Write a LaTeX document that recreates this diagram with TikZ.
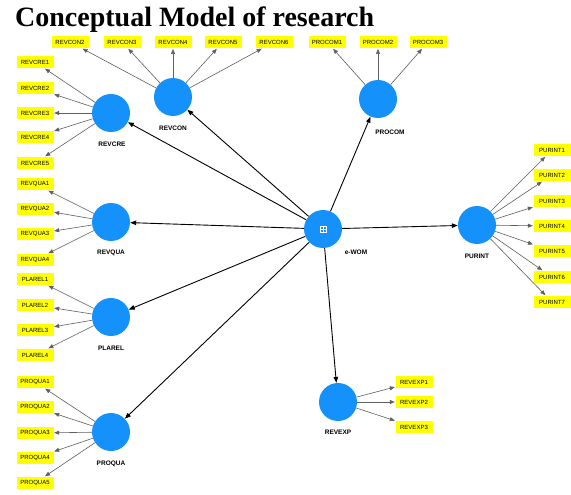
\documentclass[tikz,border=0pt]{standalone}
\usepackage{fontspec}
\setmainfont{Liberation Serif}
\setsansfont{Liberation Sans}
\usetikzlibrary{arrows.meta}
\definecolor{lvblue}{RGB}{20,145,250}
\definecolor{indyel}{RGB}{255,255,0}
\definecolor{indgray}{RGB}{95,95,95}
\begin{document}
\begin{tikzpicture}[x=1pt,y=-1pt,
 lv/.style={circle,fill=lvblue,minimum size=38pt,inner sep=0pt},
 ind/.style={fill=indyel,minimum width=37pt,minimum height=12.5pt,inner sep=0pt,font=\sffamily\fontsize{6}{7}\selectfont},
 lvl/.style={font=\sffamily\bfseries\fontsize{6.5}{7}\selectfont},
 ia/.style={draw=indgray,line width=0.6pt,-{Triangle[length=5pt,width=4pt]},shorten >=0.5pt},
 pa/.style={draw=black,line width=0.9pt,-{Triangle[length=6pt,width=4.5pt]}}]
\useasboundingbox[fill=white] (0,0) rectangle (571,495);
\node[anchor=base west,font=\bfseries\fontsize{28}{30}\selectfont,inner sep=0pt] (title) at (15,27) {Conceptual Model of research};
% latent variables
\node[lv] (ewom) at (323,229) {};
\node[lv] (revcon) at (173,97) {};
\node[lv] (revcre) at (111,113) {};
\node[lv] (procom) at (378,99) {};
\node[lv] (purint) at (477,225) {};
\node[lv] (revqua) at (111,222) {};
\node[lv] (plarel) at (111,317) {};
\node[lv] (proqua) at (111,432) {};
\node[lv] (revexp) at (338,402) {};
% labels
\node[lvl] (lrevcon) at (173,128) {REVCON};
\node[lvl] (lrevcre) at (112,144) {REVCRE};
\node[lvl] (lprocom) at (390,132) {PROCOM};
\node[lvl] (lewom) at (356,252) {e-WOM};
\node[lvl] (lpurint) at (477,256) {PURINT};
\node[lvl] (lrevqua) at (111,253) {REVQUA};
\node[lvl] (lplarel) at (111,348) {PLAREL};
\node[lvl] (lproqua) at (111,464) {PROQUA};
\node[lvl] (lrevexp) at (338,432) {REVEXP};
% e-WOM symbol
\draw[white,line width=0.5pt] ([shift={(-3,-3)}]ewom.center) rectangle ([shift={(3,3)}]ewom.center);
\draw[white,line width=0.5pt] ([shift={(-3,0)}]ewom.center) -- ([shift={(3,0)}]ewom.center);
\draw[white,line width=0.5pt] ([shift={(0,-3)}]ewom.center) -- ([shift={(0,3)}]ewom.center);
% indicators
\foreach \i/\x in {2/70,3/122,4/173,5/223,6/274}{
  \node[ind] (revcon\i) at (\x,42) {REVCON\i};
  \draw[ia] (revcon) -- (revcon\i);}
\foreach \i/\y in {1/62,2/88,3/113,4/137,5/163}{
  \node[ind] (revcre\i) at (35,\y) {REVCRE\i};
  \draw[ia] (revcre) -- (revcre\i);}
\foreach \i/\x in {1/327,2/378,3/428}{
  \node[ind] (procom\i) at (\x,42) {PROCOM\i};
  \draw[ia] (procom) -- (procom\i);}
\foreach \i/\y in {1/150,2/175,3/201,4/226,5/251,6/277,7/302}{
  \node[ind] (purint\i) at (552,\y) {PURINT\i};
  \draw[ia] (purint) -- (purint\i);}
\foreach \i/\y in {1/184,2/209,3/234,4/260}{
  \node[ind] (revqua\i) at (35,\y) {REVQUA\i};
  \draw[ia] (revqua) -- (revqua\i);}
\foreach \i/\y in {1/279,2/305,3/330,4/355}{
  \node[ind] (plarel\i) at (35,\y) {PLAREL\i};
  \draw[ia] (plarel) -- (plarel\i);}
\foreach \i/\y in {1/382,2/407,3/433,4/458,5/483}{
  \node[ind] (proqua\i) at (35,\y) {PROQUA\i};
  \draw[ia] (proqua) -- (proqua\i);}
\foreach \i/\y in {1/382,2/402,3/427}{
  \node[ind] (revexp\i) at (414,\y) {REVEXP\i};
  \draw[ia] (revexp) -- (revexp\i);}
% structural paths
\foreach \t in {revcon,revcre,procom,purint,revqua,plarel,proqua,revexp}{
  \draw[pa] (ewom) -- (\t);}
\end{tikzpicture}
\end{document}
